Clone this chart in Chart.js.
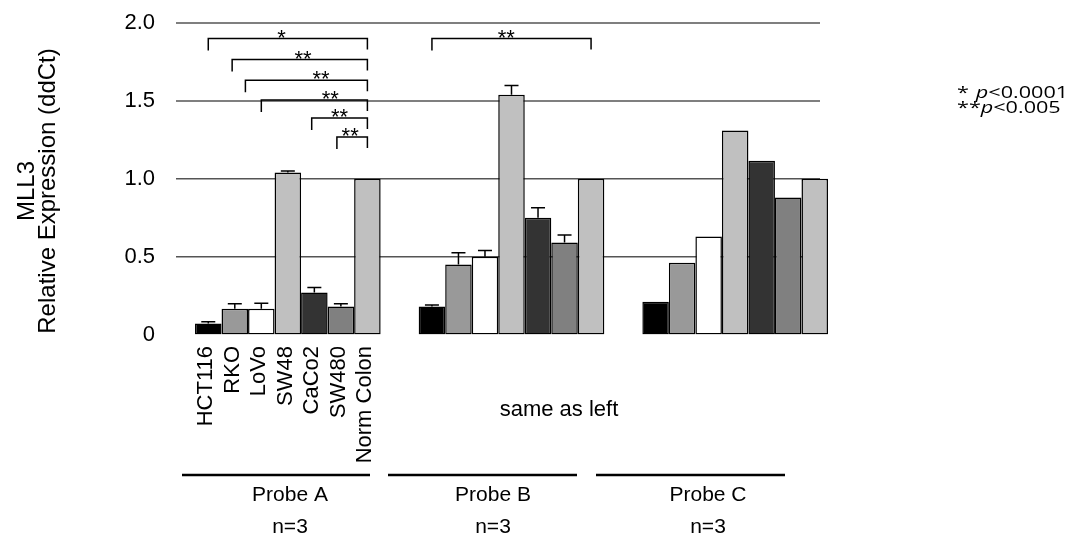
<!DOCTYPE html>
<html>
<head>
<meta charset="utf-8">
<script src="https://cdn.jsdelivr.net/npm/chart.js@4.4.1/dist/chart.umd.min.js"></script>
<style>
  body { margin: 0; background: #fff; }
  canvas { display: block; }
</style>
</head>
<body>
<canvas id="mllChart" width="1071" height="537"></canvas>
<script>
// probes (x categories) and cell lines (one dataset each)
const probes = ['Probe A', 'Probe B', 'Probe C'];
const cellLines = ['HCT116', 'RKO', 'LoVo', 'SW48', 'CaCo2', 'SW480', 'Norm Colon'];

// relative expression per cell line, across Probe A / B / C
const hct116 = [0.07, 0.18, 0.21];
const rko = [0.165, 0.45, 0.46];
const lovo = [0.165, 0.50, 0.63];
const sw48 = [1.04, 1.54, 1.31];
const caco2 = [0.27, 0.75, 1.115];
const sw480 = [0.18, 0.59, 0.88];
const normColon = [1.0, 1.0, 1.0];

// upper error bars (null = none drawn)
const hct116Err = [0.012, 0.01, null];
const rkoErr = [0.032, 0.075, null];
const lovoErr = [0.036, 0.04, null];
const sw48Err = [0.01, 0.058, null];
const caco2Err = [0.032, 0.064, null];
const sw480Err = [0.017, 0.049, null];
const normColonErr = [null, null, null];

const yTicks = [0, 0.5, 1.0, 1.5, 2.0];

// significance brackets: probe index, from/to bar index, height, stars, star position
const bracketProbe = [0, 0, 0, 0, 0, 0, 1];
const bracketFrom = [0, 0.9, 1.4, 2, 3.9, 4.85, 0];
const bracketTo = [6, 6, 6, 6, 6, 6, 6];
const bracketLevel = [1.9, 1.765, 1.632, 1.505, 1.39, 1.268, 1.9];
const bracketStars = ['*', '**', '**', '**', '**', '**', '**'];
const bracketStarAt = [2.76, 3.57, 4.25, 4.6, 4.95, 5.35, 2.8];

const values = [hct116, rko, lovo, sw48, caco2, sw480, normColon];
const errors = [hct116Err, rkoErr, lovoErr, sw48Err, caco2Err, sw480Err, normColonErr];
const fills = ['#000000', '#999999', '#ffffff', '#c0c0c0', '#333333', '#808080', '#c0c0c0'];

const FONT = "'Liberation Sans', Arial, sans-serif";

// centre x of a (possibly fractional) bar position inside a probe group
function barX(chart, probe, idx) {
  const i0 = Math.floor(idx);
  const f = idx - i0;
  const x0 = chart.getDatasetMeta(i0).data[probe].x;
  if (f === 0) return x0;
  const x1 = chart.getDatasetMeta(i0 + 1).data[probe].x;
  return x0 + f * (x1 - x0);
}

// gridlines behind the bars
const gridPlugin = {
  id: 'gridBehind',
  beforeDatasetsDraw(chart) {
    const { ctx, chartArea, scales } = chart;
    ctx.save();
    ctx.strokeStyle = '#555';
    ctx.lineWidth = 1.5;
    yTicks.forEach((v) => {
      if (v === 0) return;
      const y = scales.y.getPixelForValue(v);
      ctx.beginPath();
      ctx.moveTo(chartArea.left, y);
      ctx.lineTo(chartArea.right - 27, y);
      ctx.stroke();
    });
    ctx.restore();
  },
};

// error bars, brackets and all the loose text
const annotatePlugin = {
  id: 'annotate',
  afterDatasetsDraw(chart) {
    const { ctx, scales } = chart;
    const y = scales.y;
    ctx.save();
    ctx.strokeStyle = '#000';
    ctx.fillStyle = '#000';
    ctx.lineWidth = 1.5;

    // error bars
    errors.forEach((errs, i) => {
      const meta = chart.getDatasetMeta(i);
      errs.forEach((e, j) => {
        if (e == null) return;
        const x = meta.data[j].x;
        const y0 = y.getPixelForValue(values[i][j]);
        const y1 = y.getPixelForValue(values[i][j] + e);
        ctx.beginPath();
        ctx.moveTo(x, y0);
        ctx.lineTo(x, y1);
        ctx.moveTo(x - 7, y1);
        ctx.lineTo(x + 7, y1);
        ctx.stroke();
      });
    });

    // brackets
    ctx.font = '22px ' + FONT;
    ctx.textAlign = 'center';
    ctx.textBaseline = 'alphabetic';
    bracketProbe.forEach((p, k) => {
      const xa = barX(chart, p, bracketFrom[k]);
      const xb = barX(chart, p, bracketTo[k]);
      const yl = y.getPixelForValue(bracketLevel[k]);
      ctx.beginPath();
      ctx.moveTo(xa, yl + 12);
      ctx.lineTo(xa, yl);
      ctx.lineTo(xb, yl);
      ctx.lineTo(xb, yl + 11);
      ctx.stroke();
      ctx.fillText(bracketStars[k], barX(chart, p, bracketStarAt[k]), yl + 6);
    });

    // rotated cell line names under Probe A
    ctx.font = '22px ' + FONT;
    ctx.textAlign = 'right';
    ctx.textBaseline = 'middle';
    cellLines.forEach((name, i) => {
      const x = chart.getDatasetMeta(i).data[0].x - 2;
      ctx.save();
      ctx.translate(x, 346);
      ctx.rotate(-Math.PI / 2);
      ctx.fillText(name, 0, 0);
      ctx.restore();
    });

    ctx.textAlign = 'center';
    ctx.fillText('same as left', 559, 410);

    // group underlines and probe labels
    ctx.lineWidth = 2.5;
    const lineSpans = [[182, 370], [388, 577], [596, 785]];
    const labelX = [290, 493, 708];
    ctx.font = '21px ' + FONT;
    probes.forEach((p, i) => {
      ctx.beginPath();
      ctx.moveTo(lineSpans[i][0], 475);
      ctx.lineTo(lineSpans[i][1], 475);
      ctx.stroke();
      ctx.fillText(p, labelX[i], 495);
      ctx.fillText('n=3', labelX[i], 527);
    });

    // y axis title
    ctx.font = '24px ' + FONT;
    ctx.save();
    ctx.translate(0, 191);
    ctx.rotate(-Math.PI / 2);
    ctx.fillText('MLL3', 0, 27);
    ctx.fillText('Relative Expression (ddCt)', 0, 48);
    ctx.restore();

    // p-value key, stretched sideways like the source figure
    const keyFont = "'Open Sans', 'Noto Sans', sans-serif";
    const keyRows = [['* ', '<0.0001', 93], ['**', '<0.005', 108]];
    ctx.textAlign = 'left';
    keyRows.forEach(([pre, post, yy]) => {
      ctx.save();
      ctx.translate(957, yy);
      ctx.scale(1.35, 1);
      let x = 0;
      ctx.font = '16px ' + keyFont;
      ctx.fillText(pre, x, 0);
      x += ctx.measureText(pre).width + (pre === '* ' ? 1 : 0);
      ctx.font = 'italic 16px ' + keyFont;
      ctx.fillText('p', x, 0);
      x += ctx.measureText('p').width;
      ctx.font = '16px ' + keyFont;
      ctx.fillText(post, x, 0);
      ctx.restore();
    });

    ctx.restore();
  },
};

const chartEl = document.getElementById('mllChart');

const chart = new Chart(chartEl, {
  type: 'bar',
  data: {
    labels: probes,
    datasets: cellLines.map((name, i) => ({
      label: name,
      data: values[i],
      backgroundColor: fills[i],
      borderColor: '#000',
      borderWidth: 1.5,
      borderSkipped: false,
    })),
  },
  options: {
    responsive: false,
    animation: false,
    devicePixelRatio: 1,
    layout: { padding: { left: 0, right: 224, top: 23, bottom: 202.5 } },
    datasets: { bar: { categoryPercentage: 0.83, barPercentage: 1 } },
    plugins: { legend: { display: false }, tooltip: { enabled: false } },
    scales: {
      x: { display: false },
      y: {
        min: 0,
        max: 2,
        afterFit(scale) {
          scale.width = 176;
          // tick padding would otherwise push the plot top down
          scale.paddingTop = 0;
          scale.paddingBottom = 0;
        },
        afterBuildTicks(scale) { scale.ticks = yTicks.map((v) => ({ value: v })); },
        grid: { display: false, drawTicks: false },
        border: { display: false },
        ticks: {
          padding: 21,
          color: '#000',
          font: { family: FONT, size: 22 },
          callback: (v) => (v === 0 ? '0' : v.toFixed(1)),
        },
      },
    },
  },
  plugins: [gridPlugin, annotatePlugin],
});
</script>
</body>
</html>
